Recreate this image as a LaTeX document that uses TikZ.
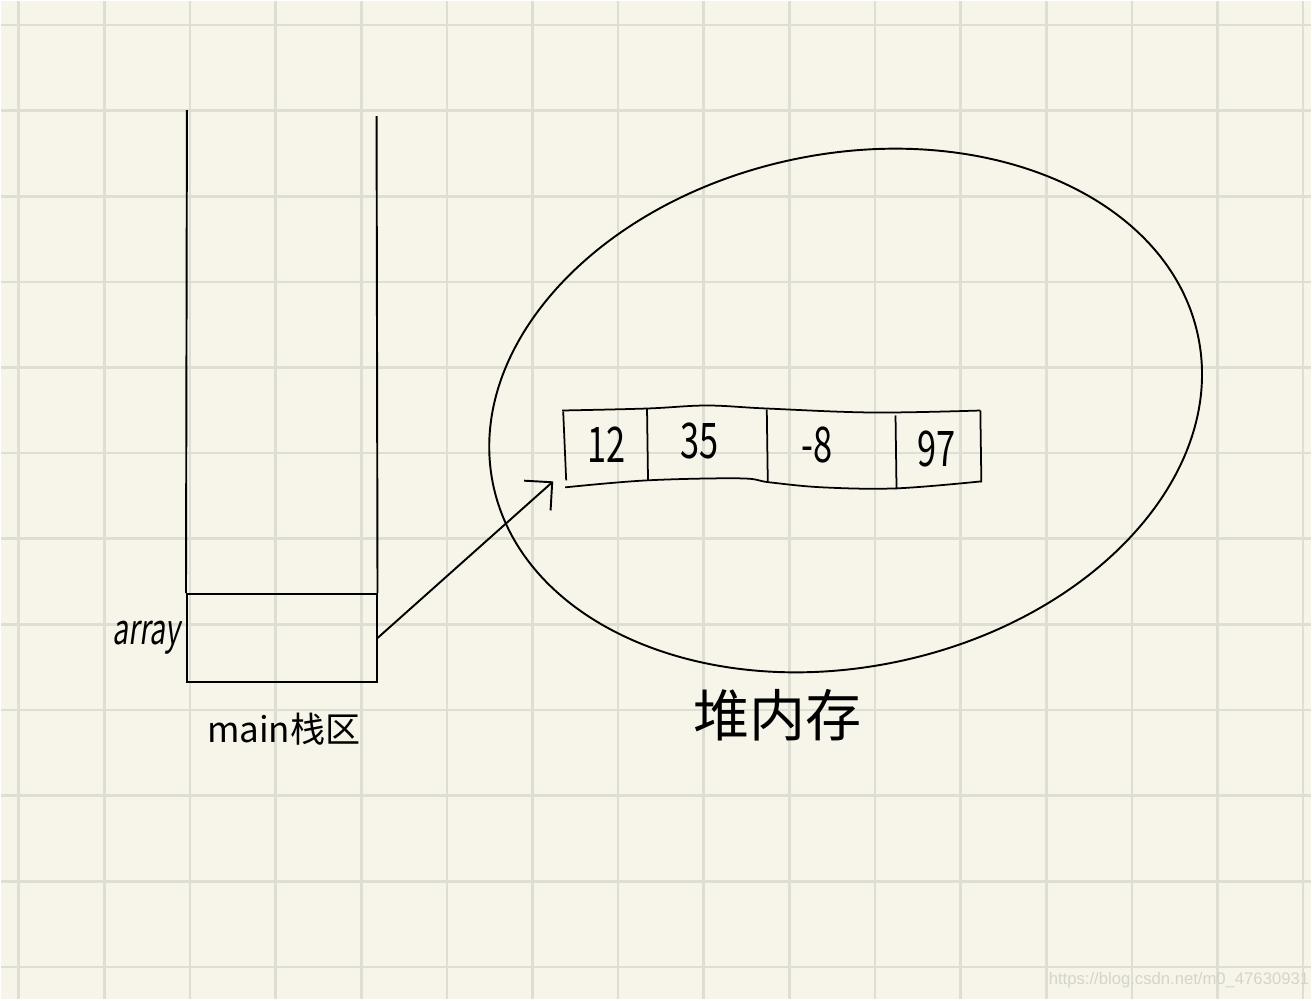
\documentclass[tikz,border=0pt]{standalone}
\usepackage{fontspec}
\setmainfont{Noto Sans CJK SC}
\newfontfamily\handit[FakeSlant=0.2]{Noto Sans CJK SC}
\newfontfamily\markfont{Liberation Sans}
\usetikzlibrary{
  positioning,shapes.geometric,
  arrows.meta
}
\definecolor{paper}{RGB}{247,245,233}
\definecolor{gridline}{RGB}{222,222,210}
\definecolor{markgray}{RGB}{212,212,202}
\tikzset{
  wall/.style={black,line width=1.1pt},
  slotbox/.style={draw,black,line width=1.1pt,minimum width=3.8cm,minimum height=1.76cm,inner sep=0},
  num/.style={font=\fontsize{28}{30}\selectfont,xscale=0.7,transform shape,inner sep=0},
  link/.style={line width=1.1pt,-{Straight Barb[length=4mm,width=8mm,line width=1.1pt]}}
}

\begin{document}
\begin{tikzpicture}[x=0.02cm,y=-0.02cm]

\fill[paper] (0,0) rectangle (1312,1000);
\foreach \k in {0,...,15}
  \draw[gridline,line width=1.5pt] ({17.4+85.8*\k},0) -- ({17.4+85.8*\k},1000);
\foreach \k in {0,...,11}
  \draw[gridline,line width=1.5pt] (0,{23.7+85.8*\k}) -- (1312,{23.7+85.8*\k});

% main stack
\node[slotbox] (slot) at (281,638) {};
\draw[wall] (186,109) -- (slot.north west);
\draw[wall] (376,115) -- (slot.north east);
\node[font=\handit\fontsize{24}{26}\selectfont,xscale=0.67,transform shape,inner sep=0,left=0.12cm of slot] (arrlabel) {array};
\node[font=\fontsize{20}{22}\selectfont,inner sep=0] (stacklabel) at (283,729) {main栈区};

% heap
\node[draw,ellipse,line width=1.1pt,rotate=12,minimum width=14.44cm,minimum height=10.28cm,inner sep=0] (heap) at (846,410) {};
\node[font=\fontsize{32}{34}\selectfont,inner sep=0] (heaplabel) at (778,715) {堆内存};

% array in heap
\draw[wall,line width=1pt] plot[smooth,tension=0.6] coordinates {(562,410) (647,408) (707,405) (767,408) (873,412) (981,410)};
\draw[wall,line width=1pt] plot[smooth,tension=0.6] coordinates {(565,487) (647,480) (740,478) (770,482) (823,487) (897,488) (982,481)};
\draw[wall,line width=1pt] (563,411) -- (566,480);
\draw[wall,line width=1pt] (647,408) -- (648,480);
\draw[wall,line width=1pt] (767,409) -- (768,481);
\draw[wall,line width=1pt] (896,415) -- (897,489);
\draw[wall,line width=1pt] (981,410) -- (982,482);
\node[num] (c1) at (606,444) {12};
\node[num] (c2) at (700,441) {35};
\node[num] (c3) at (817,445) {-8};
\node[num] (c4) at (937,449) {97};
\coordinate (arrtip) at (553,481);

\draw[link] (slot.east) -- (arrtip);

\node[font=\markfont\fontsize{9.5}{11}\selectfont,text=markgray,inner sep=0] (mark) at (1180,981) {https://blog.csdn.net/m0\_47630931};
\end{tikzpicture}
\end{document}
